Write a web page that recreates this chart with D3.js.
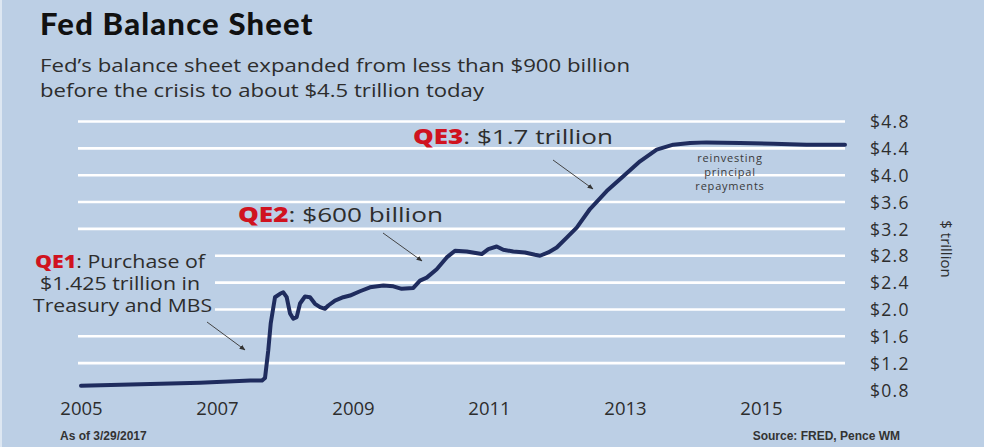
<!DOCTYPE html>
<html>
<head>
<meta charset="utf-8">
<script src="https://cdn.jsdelivr.net/npm/d3@7"></script>
<style>
  html, body { margin: 0; padding: 0; background: #bccfe5; }
  svg { display: block; }
</style>
</head>
<body>
<svg id="chart" width="984" height="447"></svg>
<script>
// Fed total assets, $ trillion, by (axis) year
const years = [
  2005.0, 2006.75, 2007.49, 2007.66, 2007.706, 2007.754, 2007.79, 2007.853, 2007.926, 2007.975,
  2008.025, 2008.074, 2008.122, 2008.172, 2008.221, 2008.294, 2008.368, 2008.441, 2008.515, 2008.588,
  2008.637, 2008.735, 2008.857, 2008.956, 2009.103, 2009.25, 2009.446, 2009.593, 2009.716, 2009.887,
  2009.985, 2010.084, 2010.231, 2010.378, 2010.5, 2010.672, 2010.893, 2010.99, 2011.113, 2011.21,
  2011.357, 2011.529, 2011.676, 2011.75, 2011.872, 2011.996, 2012.143, 2012.29, 2012.485, 2012.731,
  2012.975, 2013.221, 2013.466, 2013.71, 2013.956, 2014.2, 2014.69, 2015.18, 2015.67, 2016.235
];
const assets = [
  0.864, 0.908, 0.94, 0.94, 0.978, 1.393, 1.793, 2.182, 2.233, 2.256,
  2.182, 1.941, 1.862, 1.886, 2.089, 2.193, 2.182, 2.084, 2.034, 2.010,
  2.059, 2.133, 2.182, 2.207, 2.271, 2.330, 2.356, 2.345, 2.307, 2.321,
  2.430, 2.474, 2.60, 2.775, 2.874, 2.864, 2.825, 2.899, 2.938, 2.889,
  2.864, 2.849, 2.815, 2.80, 2.849, 2.923, 3.071, 3.219, 3.496, 3.763,
  3.985, 4.207, 4.381, 4.455, 4.479, 4.489, 4.479, 4.47, 4.455, 4.455
];
const yTicks = [0.8, 1.2, 1.6, 2.0, 2.4, 2.8, 3.2, 3.6, 4.0, 4.4, 4.8];
const xTicks = [2005, 2007, 2009, 2011, 2013, 2015];

const bg = "#bccfe5";
const ink = "#2d2d2d";
const red = "#d0131f";
const navy = "#1f2c5e";
const sans = "'Open Sans', sans-serif";

const svg = d3.select("#chart");

const x = d3.scaleLinear().domain([2005, 2015]).range([81, 761]);
const y = d3.scaleLinear().domain([0.8, 4.8]).range([390, 121.5]);

// light frame edge on the left
svg.append("rect").attr("x", 0).attr("y", 0).attr("width", 2).attr("height", 447).attr("fill", "#dde7f2");

// wide-set text helper: stretches a text run to a given width
function wide(sel, w) {
  return sel.attr("textLength", w).attr("lengthAdjust", "spacingAndGlyphs");
}

// title block
svg.append("text").attr("x", 40).attr("y", 35)
  .attr("font-family", "Lato, sans-serif").attr("font-weight", 900)
  .attr("font-size", 31).attr("letter-spacing", 1.2).attr("fill", "#111").text("Fed Balance Sheet");
const sub = ["Fed\u2019s balance sheet expanded from less than $900 billion",
             "before the crisis to about $4.5 trillion today"];
const subW = [590, 444];
svg.selectAll("text.sub").data(sub).join("text").attr("class", "sub")
  .attr("x", 40).attr("y", (d, i) => 72 + i * 25)
  .attr("font-family", sans).attr("font-size", 18)
  .attr("textLength", (d, i) => subW[i]).attr("lengthAdjust", "spacingAndGlyphs")
  .attr("fill", ink).text(d => d);

// horizontal grid
svg.append("g").selectAll("line").data(yTicks.filter(v => v > 0.8)).join("line")
  .attr("x1", 78).attr("x2", 845)
  .attr("y1", d => y(d)).attr("y2", d => y(d))
  .attr("stroke", "#ffffff").attr("stroke-width", 2.6);

// right-hand value axis
const yAxis = d3.axisRight(y).tickValues(yTicks).tickSize(0).tickPadding(0)
  .tickFormat(d => "$" + d3.format(".1f")(d));
const gy = svg.append("g").attr("transform", "translate(870,0)").call(yAxis);
gy.select(".domain").remove();
gy.selectAll("text").attr("font-family", sans).attr("font-size", 17.5)
  .attr("letter-spacing", 1.3).attr("fill", ink).attr("dy", "0.35em");

svg.append("text").attr("transform", "translate(941,249) rotate(90)")
  .attr("text-anchor", "middle").attr("font-family", sans)
  .attr("font-size", 15).attr("fill", ink).text("$ trillion");

// year axis
const xAxis = d3.axisBottom(x).tickValues(xTicks).tickSize(0).tickPadding(0)
  .tickFormat(d3.format("d"));
const gx = svg.append("g").attr("transform", "translate(0,402)").call(xAxis);
gx.select(".domain").remove();
gx.selectAll("text").attr("font-family", sans).attr("font-size", 18.5)
  .attr("fill", ink).attr("dy", "0.71em");

// balance sheet line
const pts = years.map((t, i) => [t, assets[i]]);
svg.append("path").datum(pts)
  .attr("fill", "none").attr("stroke", navy).attr("stroke-width", 4)
  .attr("stroke-linejoin", "round").attr("stroke-linecap", "round")
  .attr("d", d3.line().x(d => x(d[0])).y(d => y(d[1])));

// arrowhead
svg.append("defs").append("marker").attr("id", "arr")
  .attr("viewBox", "0 0 10 10").attr("refX", 9).attr("refY", 5)
  .attr("markerWidth", 6).attr("markerHeight", 6).attr("orient", "auto")
  .append("path").attr("d", "M0,1 L10,5 L0,9 Z").attr("fill", "#333");

function arrow(x1, y1, x2, y2) {
  svg.append("line").attr("x1", x1).attr("y1", y1).attr("x2", x2).attr("y2", y2)
    .attr("stroke", "#444").attr("stroke-width", 1).attr("marker-end", "url(#arr)");
}

// QE1 note, with a plate that masks the grid behind it
svg.append("rect").attr("x", 28).attr("y", 246).attr("width", 187).attr("height", 70).attr("fill", bg);
const note1 = svg.append("g").attr("font-family", sans).attr("font-size", 18)
  .attr("fill", ink).attr("text-anchor", "middle");
const l1 = wide(note1.append("text").attr("x", 120).attr("y", 268), 170);
l1.append("tspan").attr("fill", red).attr("font-weight", 800).text("QE1");
l1.append("tspan").text(": Purchase of");
wide(note1.append("text").attr("x", 120).attr("y", 290), 160).text("$1.425 trillion in");
wide(note1.append("text").attr("x", 122.5).attr("y", 312), 179).text("Treasury and MBS");
arrow(207, 322, 245, 350);

// QE2 note
const q2 = wide(svg.append("text").attr("x", 238).attr("y", 222)
  .attr("font-family", sans).attr("font-size", 20.5).attr("fill", ink), 205);
q2.append("tspan").attr("fill", red).attr("font-weight", 800).text("QE2");
q2.append("tspan").text(": $600 billion");
arrow(383, 233, 422, 261);

// QE3 note
const q3 = wide(svg.append("text").attr("x", 413).attr("y", 144)
  .attr("font-family", sans).attr("font-size", 20.5).attr("fill", ink), 200);
q3.append("tspan").attr("fill", red).attr("font-weight", 800).text("QE3");
q3.append("tspan").text(": $1.7 trillion");
arrow(553, 160, 593, 189);

// plateau note
svg.append("g").selectAll("text").data(["reinvesting", "principal", "repayments"]).join("text")
  .attr("x", 730).attr("y", (d, i) => 162 + i * 14)
  .attr("text-anchor", "middle").attr("font-family", sans)
  .attr("font-size", 11).attr("letter-spacing", 0.8).attr("fill", "#3a3a3a").text(d => d);

// footer
svg.append("text").attr("x", 60).attr("y", 440).attr("font-family", "'Liberation Sans Narrow', 'Liberation Sans', sans-serif")
  .attr("font-size", 12).attr("font-weight", 700).attr("fill", "#333").text("As of 3/29/2017");
svg.append("text").attr("x", 900).attr("y", 440).attr("text-anchor", "end")
  .attr("font-family", "'Liberation Sans Narrow', 'Liberation Sans', sans-serif")
  .attr("font-size", 12).attr("font-weight", 700).attr("fill", "#333").text("Source: FRED, Pence WM");
</script>
</body>
</html>
